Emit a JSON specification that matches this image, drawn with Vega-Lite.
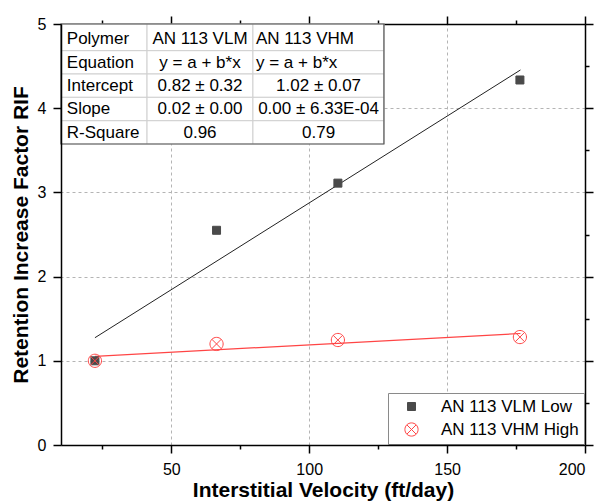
{
  "$schema": "https://vega.github.io/schema/vega-lite/v6.json",
  "width": 524,
  "height": 421,
  "autosize": "none",
  "padding": {"left": 61, "top": 24, "right": 16, "bottom": 58},
  "background": "white",
  "config": {
    "font": "Liberation Sans",
    "view": {"stroke": null},
    "axis": {
      "domainColor": "black",
      "tickColor": "black",
      "domainWidth": 1.5,
      "tickWidth": 1.5,
      "labelColor": "black",
      "titleColor": "black",
      "labelFontSize": 16,
      "titleFontSize": 21,
      "titleFontWeight": "bold",
      "labelFont": "Liberation Sans",
      "titleFont": "Liberation Sans"
    }
  },
  "datasets": {
    "points": [
      {"series": "AN 113 VLM Low", "v": 22.3, "rif": 1.0},
      {"series": "AN 113 VLM Low", "v": 66.4, "rif": 2.55},
      {"series": "AN 113 VLM Low", "v": 110.4, "rif": 3.11},
      {"series": "AN 113 VLM Low", "v": 176.4, "rif": 4.335},
      {"series": "AN 113 VHM High", "v": 22.3, "rif": 1.0},
      {"series": "AN 113 VHM High", "v": 66.4, "rif": 1.2},
      {"series": "AN 113 VHM High", "v": 110.4, "rif": 1.247},
      {"series": "AN 113 VHM High", "v": 176.4, "rif": 1.282}
    ],
    "fits": [
      {"series": "AN 113 VLM Low", "v": 22.3, "rif": 1.274},
      {"series": "AN 113 VLM Low", "v": 176.6, "rif": 4.454},
      {"series": "AN 113 VHM High", "v": 22.3, "rif": 1.053},
      {"series": "AN 113 VHM High", "v": 176.6, "rif": 1.324}
    ],
    "cells": [
      {"x1": 10, "x2": 41.2, "y1": 5, "y2": 4.683},
      {"x1": 41.2, "x2": 79.6, "y1": 5, "y2": 4.683},
      {"x1": 79.6, "x2": 127.1, "y1": 5, "y2": 4.683},
      {"x1": 10, "x2": 41.2, "y1": 4.683, "y2": 4.406},
      {"x1": 41.2, "x2": 79.6, "y1": 4.683, "y2": 4.406},
      {"x1": 79.6, "x2": 127.1, "y1": 4.683, "y2": 4.406},
      {"x1": 10, "x2": 41.2, "y1": 4.406, "y2": 4.129},
      {"x1": 41.2, "x2": 79.6, "y1": 4.406, "y2": 4.129},
      {"x1": 79.6, "x2": 127.1, "y1": 4.406, "y2": 4.129},
      {"x1": 10, "x2": 41.2, "y1": 4.129, "y2": 3.851},
      {"x1": 41.2, "x2": 79.6, "y1": 4.129, "y2": 3.851},
      {"x1": 79.6, "x2": 127.1, "y1": 4.129, "y2": 3.851},
      {"x1": 10, "x2": 41.2, "y1": 3.851, "y2": 3.575},
      {"x1": 41.2, "x2": 79.6, "y1": 3.851, "y2": 3.575},
      {"x1": 79.6, "x2": 127.1, "y1": 3.851, "y2": 3.575}
    ],
    "frame": [
      {"x1": 10, "x2": 127.1, "y1": 5, "y2": 3.575}
    ],
    "tableText": [
      {"t": "Polymer", "x": 12.1, "y": 4.825, "a": "left"},
      {"t": "AN 113 VLM", "x": 60.4, "y": 4.825, "a": "center"},
      {"t": "AN 113 VHM", "x": 80.7, "y": 4.825, "a": "left"},
      {"t": "Equation", "x": 12.1, "y": 4.539, "a": "left"},
      {"t": "y = a + b*x", "x": 60.4, "y": 4.539, "a": "center"},
      {"t": "y = a + b*x", "x": 80.7, "y": 4.539, "a": "left"},
      {"t": "Intercept", "x": 12.1, "y": 4.261, "a": "left"},
      {"t": "0.82 ± 0.32", "x": 60.4, "y": 4.261, "a": "center"},
      {"t": "1.02 ± 0.07", "x": 103.4, "y": 4.261, "a": "center"},
      {"t": "Slope", "x": 12.1, "y": 3.985, "a": "left"},
      {"t": "0.02 ± 0.00", "x": 60.4, "y": 3.985, "a": "center"},
      {"t": "0.00 ± 6.33E-04", "x": 103.4, "y": 3.985, "a": "center"},
      {"t": "R-Square", "x": 12.1, "y": 3.711, "a": "left"},
      {"t": "0.96", "x": 60.4, "y": 3.711, "a": "center"},
      {"t": "0.79", "x": 103.4, "y": 3.711, "a": "center"}
    ]
  },
  "resolve": {"axis": {"x": "independent", "y": "independent"}},
  "layer": [
    {
      "data": {"name": "fits"},
      "transform": [{"filter": "datum.series === 'AN 113 VLM Low'"}],
      "mark": {"type": "line", "color": "#222222", "strokeWidth": 1},
      "encoding": {
        "x": {
          "field": "v", "type": "quantitative",
          "scale": {"domain": [10, 200], "nice": false, "zero": false},
          "axis": {
            "orient": "top", "labels": false, "title": null,
            "values": [25, 50, 75, 100, 125, 150, 175, 200],
            "tickSize": {"condition": {"test": "datum.value % 50 === 0", "value": 8}, "value": 4},
            "grid": true, "gridColor": "#b4b4b4", "gridDash": [3, 3], "gridWidth": 1,
            "gridOpacity": {"condition": {"test": "datum.value % 50 === 0 && datum.value < 200", "value": 1}, "value": 0}
          }
        },
        "y": {
          "field": "rif", "type": "quantitative",
          "scale": {"domain": [0, 5], "nice": false},
          "axis": {
            "orient": "right", "labels": false, "title": null,
            "values": [0, 0.5, 1, 1.5, 2, 2.5, 3, 3.5, 4, 4.5, 5],
            "tickSize": {"condition": {"test": "datum.value % 1 === 0", "value": 8}, "value": 4},
            "grid": true, "gridColor": "#b4b4b4", "gridDash": [3, 3], "gridWidth": 1,
            "gridOpacity": {"condition": {"test": "datum.value % 1 === 0 && datum.value > 0 && datum.value < 5", "value": 1}, "value": 0}
          }
        }
      }
    },
    {
      "data": {"name": "fits"},
      "transform": [{"filter": "datum.series === 'AN 113 VHM High'"}],
      "mark": {"type": "line", "color": "#ff4545", "strokeWidth": 1.2},
      "encoding": {
        "x": {"field": "v", "type": "quantitative", "axis": null},
        "y": {"field": "rif", "type": "quantitative", "axis": null}
      }
    },
    {
      "data": {"name": "cells"},
      "mark": {"type": "rect", "fill": "white", "stroke": "#cfcfcf", "strokeWidth": 1},
      "encoding": {
        "x": {"field": "x1", "type": "quantitative", "axis": null},
        "x2": {"field": "x2"},
        "y": {"field": "y1", "type": "quantitative", "axis": null},
        "y2": {"field": "y2"}
      }
    },
    {
      "data": {"name": "frame"},
      "mark": {"type": "rect", "fill": null, "fillOpacity": 0, "stroke": "#555555", "strokeWidth": 1.2},
      "encoding": {
        "x": {"field": "x1", "type": "quantitative", "axis": null},
        "x2": {"field": "x2"},
        "y": {"field": "y1", "type": "quantitative", "axis": null},
        "y2": {"field": "y2"}
      }
    },
    {
      "data": {"name": "tableText"},
      "transform": [{"filter": "datum.a === 'left'"}],
      "mark": {"type": "text", "align": "left", "baseline": "middle", "fontSize": 17, "font": "Liberation Sans", "color": "black"},
      "encoding": {
        "x": {"field": "x", "type": "quantitative", "axis": null},
        "y": {"field": "y", "type": "quantitative", "axis": null},
        "text": {"field": "t"}
      }
    },
    {
      "data": {"name": "tableText"},
      "transform": [{"filter": "datum.a === 'center'"}],
      "mark": {"type": "text", "align": "center", "baseline": "middle", "fontSize": 17, "font": "Liberation Sans", "color": "black"},
      "encoding": {
        "x": {"field": "x", "type": "quantitative", "axis": null},
        "y": {"field": "y", "type": "quantitative", "axis": null},
        "text": {"field": "t"}
      }
    },
    {
      "data": {"name": "points"},
      "mark": {"type": "point", "size": 64, "strokeWidth": 1, "opacity": 1},
      "encoding": {
        "x": {
          "field": "v", "type": "quantitative",
          "axis": {
            "orient": "bottom", "title": "Interstitial Velocity (ft/day)",
            "values": [25, 50, 75, 100, 125, 150, 175, 200],
            "format": "d",
            "labelExpr": "datum.value % 50 === 0 ? datum.label : ''",
            "tickSize": {"condition": {"test": "datum.value % 50 === 0", "value": 8}, "value": 4},
            "grid": false, "labelPadding": 8, "titlePadding": 2, "zindex": 1
          }
        },
        "y": {
          "field": "rif", "type": "quantitative",
          "axis": {
            "orient": "left", "title": "Retention Increase Factor RIF",
            "values": [0, 0.5, 1, 1.5, 2, 2.5, 3, 3.5, 4, 4.5, 5],
            "format": "d",
            "labelExpr": "datum.value % 1 === 0 ? datum.label : ''",
            "tickSize": {"condition": {"test": "datum.value % 1 === 0", "value": 8}, "value": 4},
            "grid": false, "labelPadding": 7, "titlePadding": 6, "zindex": 1
          }
        },
        "shape": {
          "field": "series", "type": "nominal",
          "scale": {
            "domain": ["AN 113 VLM Low", "AN 113 VHM High"],
            "range": ["square", "M-1.65,0A1.65,1.65 0 1,0 1.65,0A1.65,1.65 0 1,0 -1.65,0M-1.17,-1.17L1.17,1.17M-1.17,1.17L1.17,-1.17"]
          },
          "legend": {
            "orient": "bottom-right", "offset": 1, "title": null,
            "fillColor": "white", "strokeColor": "#8a8a8a",
            "padding": 5, "labelFontSize": 17, "labelFont": "Liberation Sans", "labelColor": "black",
            "symbolSize": 64, "symbolStrokeWidth": 1, "symbolOffset": 10, "labelOffset": 21, "rowPadding": 5
          }
        },
        "fill": {
          "field": "series", "type": "nominal",
          "scale": {"domain": ["AN 113 VLM Low", "AN 113 VHM High"], "range": ["#4a4a4a", "rgba(0,0,0,0)"]}
        },
        "stroke": {
          "field": "series", "type": "nominal",
          "scale": {"domain": ["AN 113 VLM Low", "AN 113 VHM High"], "range": ["#4a4a4a", "#ff4545"]}
        }
      }
    }
  ]
}
